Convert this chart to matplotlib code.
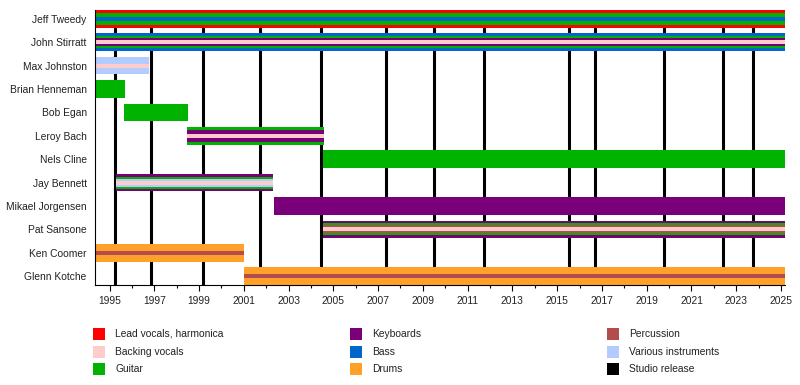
import matplotlib
matplotlib.use("Agg")
import matplotlib.pyplot as plt
from matplotlib.patches import Rectangle
from matplotlib.ticker import MultipleLocator

plt.rcParams['font.family'] = ['Liberation Sans', 'DejaVu Sans']

# data (decimal years)
TIMELINE_START = 1994.35
TIMELINE_END = 2025.18

members = ["Jeff Tweedy", "John Stirratt", "Max Johnston", "Brian Henneman",
           "Bob Egan", "Leroy Bach", "Nels Cline", "Jay Bennett",
           "Mikael Jorgensen", "Pat Sansone", "Ken Coomer", "Glenn Kotche"]
starts = [1994.35, 1994.35, 1994.35, 1994.35, 1995.66, 1998.47,
          2004.55, 1995.30, 2002.36, 2004.55, 1994.35, 2001.0]
ends = [2025.18, 2025.18, 1996.78, 1995.70, 1998.50, 2004.60,
        2025.18, 2002.30, 2025.18, 2025.18, 2001.0, 2025.18]
# instruments of each member, outer stripe first
roles = [
    ["Lead vocals, harmonica", "Guitar", "Bass"],
    ["Bass", "Guitar", "Keyboards", "Backing vocals"],
    ["Various instruments", "Backing vocals"],
    ["Guitar"],
    ["Guitar"],
    ["Guitar", "Keyboards", "Backing vocals"],
    ["Guitar"],
    ["Keyboards", "Guitar", "Various instruments", "Backing vocals"],
    ["Keyboards"],
    ["Keyboards", "Guitar", "Percussion", "Backing vocals"],
    ["Drums", "Percussion"],
    ["Drums", "Percussion"],
]

releases = [1995.24, 1996.83, 1999.19, 2001.71, 2004.47, 2007.37, 2009.49,
            2011.74, 2015.54, 2016.69, 2019.76, 2022.40, 2023.74]

legend_labels = ["Lead vocals, harmonica", "Backing vocals", "Guitar",
                 "Keyboards", "Bass", "Drums",
                 "Percussion", "Various instruments", "Studio release"]

colors = {
    "Lead vocals, harmonica": "#ff0000",
    "Backing vocals": "#ffcccc",
    "Guitar": "#00b300",
    "Keyboards": "#7a007a",
    "Bass": "#0066cc",
    "Drums": "#ffa02a",
    "Percussion": "#b34c4c",
    "Various instruments": "#b3ccff",
    "Studio release": "#000000",
}

# stripe widths depending on how many instruments a bar carries
layer_widths = {1: [1.0], 2: [1.0, 0.23], 3: [1.0, 0.68, 0.23],
                4: [1.0, 0.68, 0.45, 0.23]}
BAR_H = 0.756
FS = 7.4

fig = plt.figure(figsize=(8, 3.85), dpi=100)
ax = fig.add_axes([95 / 800, 1 - 285 / 385, 690 / 800, 275 / 385])

ax.vlines(releases, -1, len(members) + 1, color="black", linewidth=2.2, zorder=1)

for i, name in enumerate(members):
    ws = layer_widths[len(roles[i])]
    for role, w in zip(roles[i], ws):
        ax.barh(i, ends[i] - starts[i], left=starts[i], height=BAR_H * w,
                color=colors[role], linewidth=0, zorder=2)

ax.set_xlim(TIMELINE_START, TIMELINE_END)
ax.set_ylim(len(members) - 1 + BAR_H / 2, -BAR_H / 2)
ax.set_yticks(range(len(members)))
ax.set_yticklabels(members, fontsize=FS, color="#222222")
ax.tick_params(axis="y", length=0, pad=6)

ax.set_xticks(range(1995, 2026, 2))
ax.xaxis.set_minor_locator(MultipleLocator(1))
ax.tick_params(axis="x", which="major", length=4, width=0.8, labelsize=FS,
               labelcolor="#222222", pad=4)
ax.tick_params(axis="x", which="minor", length=2.5, width=0.8)

for side in ["top", "right"]:
    ax.spines[side].set_visible(False)
for side in ["left", "bottom"]:
    ax.spines[side].set_linewidth(0.8)
    ax.spines[side].set_zorder(3)

# legend, three columns filled top to bottom
lax = fig.add_axes([0, 0, 1, 1])
lax.set_xlim(0, 800)
lax.set_ylim(385, 0)
lax.axis("off")
col_x = [93, 350, 607]
row_y = [334, 352, 369]
for k, lab in enumerate(legend_labels):
    x = col_x[k // 3]
    y = row_y[k % 3]
    lax.add_patch(Rectangle((x, y - 6), 12, 12, color=colors[lab], linewidth=0))
    lax.text(x + 22, y, lab, fontsize=FS, va="center", ha="left", color="#222222")

fig.savefig("out.png", dpi=100)
